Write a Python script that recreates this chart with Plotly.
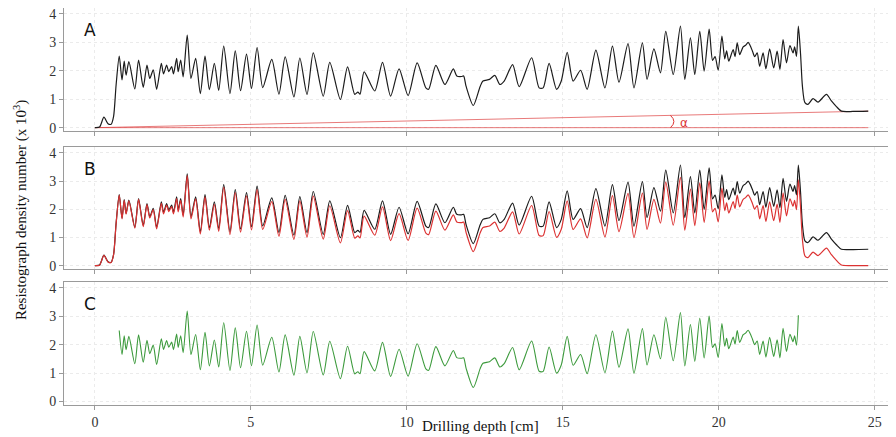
import plotly.graph_objects as go

# ---- data ----
depth = [0.0, 0.15, 0.29, 0.42, 0.52, 0.6, 0.68, 0.78,
         0.87, 0.94, 1.0, 1.09, 1.28, 1.4, 1.55, 1.67, 1.76, 1.87, 1.98, 2.13, 2.2, 2.3, 2.37, 2.46, 2.52, 2.62, 2.67, 2.75, 2.83, 2.96,
         3.08, 3.23, 3.38, 3.53, 3.67, 3.83, 3.97, 4.13, 4.33, 4.5, 4.67, 4.86, 5.02, 5.2, 5.38, 5.67, 5.9, 6.1, 6.38, 6.57,
         6.8, 7.0, 7.32, 7.53, 7.87, 8.1, 8.33, 8.43, 8.5, 8.63, 8.97, 9.22, 9.48, 9.75, 10.04, 10.33, 10.61, 10.7, 10.93, 11.22,
         11.49, 11.6, 11.75, 11.82, 11.9, 12.13, 12.35, 12.44, 12.65, 12.82, 12.98, 13.12, 13.39, 13.6,
         14.0, 14.24, 14.37, 14.56, 14.8, 14.95, 15.14, 15.33, 15.57, 15.78, 16.06, 16.35, 16.59, 16.8, 17.09, 17.28,
         17.55, 17.7, 17.92, 18.13, 18.3, 18.54, 18.77, 18.91, 19.09, 19.23, 19.39, 19.53, 19.69, 19.8, 19.88, 19.98,
         20.1, 20.19, 20.25, 20.32, 20.46, 20.52, 20.59, 20.67, 20.78, 20.86, 20.94, 21.0, 21.08, 21.15, 21.23, 21.31,
         21.42, 21.51, 21.63, 21.76, 21.87, 21.96, 22.06, 22.17, 22.28, 22.38, 22.43, 22.49, 22.55, 22.62, 22.68, 22.76,
         22.86, 23.02, 23.18, 23.45, 23.61, 23.77, 23.93, 24.3, 24.79]
resist = [0.0, 0.02, 0.37, 0.14, 0.12, 0.4, 1.5, 2.52,
          1.68, 2.34, 1.85, 2.32, 1.36, 2.38, 1.42, 2.2, 1.73, 2.03, 1.35, 2.26, 1.89, 2.2, 1.97, 2.15, 1.89, 2.44, 1.97, 2.38, 1.79, 3.26,
          1.73, 2.44, 1.2, 2.52, 1.34, 2.26, 1.31, 2.87, 1.2, 2.7, 1.3, 2.59, 1.38, 2.82, 1.41, 2.4, 1.18, 2.49, 1.08, 2.45,
          1.17, 2.63, 1.11, 2.3, 0.99, 2.14, 1.17, 1.25, 1.18, 1.96, 1.29, 2.3, 1.11, 2.07, 1.13, 2.28, 1.4, 1.35, 2.19, 1.52,
          2.07, 1.82, 1.8, 1.82, 1.45, 0.78, 1.45, 1.64, 1.7, 1.84, 1.52, 1.64, 2.22, 1.44,
          2.46, 1.4, 1.4, 2.26, 1.35, 1.64, 2.65, 1.64, 2.02, 1.35, 2.73, 1.4, 2.87, 1.6, 2.96, 1.4,
          2.98, 1.7, 2.77, 1.93, 3.39, 1.87, 3.57, 1.7, 3.16, 1.87, 3.39, 1.99, 3.47, 2.37, 2.5, 2.02,
          3.22, 2.42, 2.7, 2.34, 2.75, 2.5, 2.98, 2.57, 2.84, 2.9, 3.0, 2.9, 2.69, 2.5, 2.63, 2.16,
          2.63, 2.07, 2.77, 2.1, 2.69, 2.05, 3.1, 2.28, 2.89, 2.63, 2.84, 2.51, 3.57, 2.6, 1.46, 0.88,
          0.82, 1.02, 0.9, 1.17, 0.94, 0.74, 0.58, 0.57, 0.58]

# red trend line in panel A (end point)
trend_x = [0.0, 24.79]
trend_y = [0.0, 0.58]
base_x = [0.0, 24.79]
base_y = [0.0, 0.0]

# panel C window (start / end depth of the green series)
window = [0.78, 22.55]

x_ticks = [0, 5, 10, 15, 20, 25]
y_ticks = [0, 1, 2, 3, 4]
panel_labels = ["A", "B", "C"]

# ---- derived: detrended series (black minus red trend line) ----
slope = (trend_y[1] - trend_y[0]) / (trend_x[1] - trend_x[0])
detrended = [v - slope * d for d, v in zip(depth, resist)]
c_depth = [d for d in depth if window[0] <= d <= window[1]]
c_vals = [v for d, v in zip(depth, detrended) if window[0] <= d <= window[1]]

BLACK = "#1c1c1c"
RED = "#dc3232"
GREEN = "#3c9a3c"
SERIF = "Liberation Serif"

fig = go.Figure()
spl = dict(shape="spline", smoothing=0.7)

# Panel A
fig.add_trace(go.Scatter(x=trend_x, y=trend_y, mode="lines", xaxis="x", yaxis="y",
                         line=dict(color="rgba(220,50,50,0.65)", width=1)))
fig.add_trace(go.Scatter(x=base_x, y=base_y, mode="lines", xaxis="x", yaxis="y",
                         line=dict(color="rgba(220,50,50,0.65)", width=1)))
fig.add_trace(go.Scatter(x=depth, y=resist, mode="lines", xaxis="x", yaxis="y",
                         line=dict(color=BLACK, width=1.2, **spl)))
# Panel B
fig.add_trace(go.Scatter(x=depth, y=resist, mode="lines", xaxis="x2", yaxis="y2",
                         line=dict(color=BLACK, width=1.2, **spl)))
fig.add_trace(go.Scatter(x=depth, y=detrended, mode="lines", xaxis="x2", yaxis="y2",
                         line=dict(color=RED, width=1.2, **spl)))
# Panel C
fig.add_trace(go.Scatter(x=c_depth, y=c_vals, mode="lines", xaxis="x3", yaxis="y3",
                         line=dict(color=GREEN, width=1.1, **spl)))

# page body has an 8px margin -> figure placed at (8, 8)
xrange = [-0.99, 25.68]
yrange = [-0.12, 4.21]
domains = [[0.690, 1.0], [0.3426, 0.65], [0.0, 0.3098]]

common_ax = dict(showline=True, linecolor="#9a9a9a", linewidth=1, mirror=True,
                 showgrid=True, gridcolor="#ebebeb", griddash="dot", gridwidth=1,
                 ticks="outside", ticklen=4, tickcolor="#9a9a9a",
                 ticklabeloverflow="allow",
                 zeroline=False, tickfont=dict(family=SERIF, size=14, color="#333333"))

layout = dict(width=888, height=429, plot_bgcolor="white", paper_bgcolor="white",
              margin=dict(l=56, r=0, t=0, b=32), showlegend=False)
for i in range(3):
    sx = "" if i == 0 else str(i + 1)
    layout["xaxis" + sx] = dict(common_ax, range=xrange, tickvals=x_ticks, anchor="y" + sx,
                                showticklabels=(i == 2))
    layout["yaxis" + sx] = dict(common_ax, range=yrange, tickvals=y_ticks, anchor="x" + sx,
                                domain=domains[i])
fig.update_layout(**layout)

# panel letters
for i, lab in enumerate(panel_labels):
    sx = "" if i == 0 else str(i + 1)
    fig.add_annotation(x=-0.16, y=3.42, xref="x" + sx, yref="y" + sx, text=lab, showarrow=False,
                       xanchor="center", yanchor="middle",
                       font=dict(family="DejaVu Sans", size=17, color="#111111"))

# alpha angle marker
arc_x = 18.45
arc_top = slope * arc_x
fig.add_shape(type="path", xref="x", yref="y",
              path=f"M {arc_x},{arc_top} Q {arc_x + 0.22},{arc_top / 2} {arc_x},0",
              line=dict(color=RED, width=1))
fig.add_annotation(x=arc_x + 0.45, y=arc_top * 0.42, xref="x", yref="y", text="α", showarrow=False,
                   xanchor="center", yanchor="middle",
                   font=dict(family="DejaVu Sans", size=12, color=RED))

# axis titles
fig.add_annotation(x=12.37, y=-0.053, xref="x3", yref="paper", text="Drilling depth [cm]",
                   showarrow=False, xanchor="center", yanchor="middle",
                   font=dict(family=SERIF, size=15, color="#111111"))
fig.add_annotation(x=-0.0529, y=0.491, xref="paper", yref="paper", textangle=-90,
                   text="Resistograph density number (x 10<sup>3</sup>)", showarrow=False,
                   xanchor="center", yanchor="middle",
                   font=dict(family=SERIF, size=15, color="#111111"))

fig.write_html("out.html")
